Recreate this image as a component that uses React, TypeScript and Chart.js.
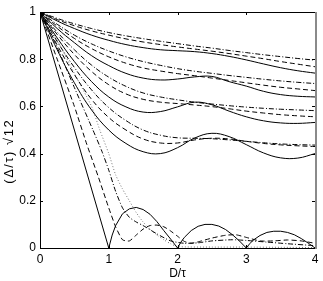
import { useEffect, useRef } from "react";
import { Chart, registerables } from "chart.js";

Chart.register(...registerables);

// ---- data ----
const xGrid = [0, 0.25, 0.5, 0.75, 1, 1.25, 1.5, 1.75, 2, 2.25, 2.5, 2.75, 3, 3.25, 3.5, 3.75, 4];

const g1Solid = [1, 0.962, 0.93, 0.902, 0.88, 0.862, 0.849, 0.84, 0.836, 0.832, 0.824, 0.812, 0.797, 0.78, 0.764, 0.751, 0.741];
const g1Dash = [1, 0.968, 0.942, 0.92, 0.902, 0.886, 0.873, 0.862, 0.852, 0.843, 0.834, 0.824, 0.813, 0.802, 0.79, 0.779, 0.768];
const g1DashDot = [1, 0.973, 0.95, 0.93, 0.913, 0.899, 0.887, 0.876, 0.866, 0.856, 0.847, 0.837, 0.828, 0.819, 0.811, 0.803, 0.796];

const g2Solid = [1, 0.93, 0.87, 0.815, 0.773, 0.74, 0.72, 0.712, 0.716, 0.725, 0.727, 0.705, 0.686, 0.664, 0.65, 0.643, 0.64];
const g2Dash = [1, 0.94, 0.888, 0.845, 0.81, 0.783, 0.763, 0.75, 0.739, 0.73, 0.72, 0.71, 0.7, 0.69, 0.681, 0.674, 0.667];
const g2DashDot = [1, 0.948, 0.902, 0.865, 0.835, 0.81, 0.79, 0.774, 0.76, 0.749, 0.74, 0.731, 0.723, 0.715, 0.708, 0.702, 0.697];

const g3Solid = [1, 0.89, 0.79, 0.705, 0.64, 0.598, 0.576, 0.578, 0.598, 0.618, 0.607, 0.58, 0.556, 0.539, 0.53, 0.528, 0.532];
const g3Dash = [1, 0.905, 0.82, 0.748, 0.692, 0.653, 0.63, 0.618, 0.612, 0.606, 0.599, 0.59, 0.58, 0.572, 0.565, 0.56, 0.556];
const g3DashDot = [1, 0.915, 0.84, 0.775, 0.724, 0.685, 0.657, 0.64, 0.628, 0.618, 0.61, 0.603, 0.597, 0.592, 0.588, 0.585, 0.582];

const g4Solid = [1, 0.84, 0.7, 0.585, 0.5, 0.443, 0.408, 0.4, 0.425, 0.466, 0.486, 0.472, 0.438, 0.403, 0.382, 0.381, 0.4];
const g4Dash = [1, 0.86, 0.735, 0.63, 0.553, 0.5, 0.462, 0.445, 0.445, 0.458, 0.465, 0.462, 0.452, 0.443, 0.437, 0.433, 0.43];
const g4DashDot = [1, 0.875, 0.765, 0.67, 0.595, 0.54, 0.5, 0.478, 0.467, 0.465, 0.463, 0.458, 0.452, 0.446, 0.441, 0.438, 0.436];

const bSolidX = [0, 1, 1.05, 1.1, 1.2, 1.3, 1.4, 1.5, 1.6, 1.7, 1.8, 1.9, 2, 2.05, 2.1, 2.2, 2.3, 2.4, 2.5, 2.6, 2.7, 2.8, 2.9, 3, 3.05, 3.1, 3.2, 3.3, 3.4, 3.5, 3.6, 3.7, 3.8, 3.9, 4];
const bSolidY = [1, 0, 0.055, 0.095, 0.145, 0.166, 0.172, 0.163, 0.143, 0.112, 0.074, 0.038, 0, 0.025, 0.045, 0.074, 0.092, 0.1, 0.1, 0.093, 0.078, 0.056, 0.03, 0, 0.018, 0.033, 0.053, 0.066, 0.071, 0.071, 0.066, 0.056, 0.04, 0.021, 0];

const bDashX = [0, 0.25, 0.5, 0.68, 0.85, 1, 1.1, 1.2, 1.3, 1.4, 1.5, 1.6, 1.7, 1.8, 1.9, 2, 2.1, 2.2, 2.35, 2.5, 2.7, 2.85, 3, 3.2, 3.4, 3.6, 3.8, 4];
const bDashY = [1, 0.8, 0.6, 0.44, 0.3, 0.17, 0.09, 0.035, 0.03, 0.055, 0.08, 0.095, 0.097, 0.09, 0.072, 0.05, 0.028, 0.02, 0.03, 0.042, 0.054, 0.056, 0.045, 0.03, 0.03, 0.034, 0.03, 0.02];

const bDashDotX = [0, 0.25, 0.5, 0.77, 0.9, 1, 1.1, 1.2, 1.3, 1.4, 1.5, 1.7, 1.9, 2.1, 2.3, 2.5, 2.8, 3, 3.3, 3.6, 4];
const bDashDotY = [1, 0.85, 0.68, 0.5, 0.41, 0.33, 0.24, 0.17, 0.13, 0.11, 0.095, 0.06, 0.03, 0.02, 0.022, 0.03, 0.035, 0.032, 0.025, 0.018, 0.01];

const bDotX = [0, 0.25, 0.5, 0.75, 0.87, 1, 1.1, 1.2, 1.3, 1.4, 1.5, 1.6, 1.7, 1.8, 1.9, 2, 2.5, 3, 3.5, 4];
const bDotY = [1, 0.88, 0.74, 0.6, 0.5, 0.4, 0.31, 0.25, 0.2, 0.15, 0.11, 0.08, 0.055, 0.035, 0.018, 0.006, 0.004, 0.004, 0.003, 0.002];

const xTicks = [0, 1, 2, 3, 4];
const yTicks = [0, 0.2, 0.4, 0.6, 0.8, 1];
const xTitle = "D/τ";
const yTitle = "(Δ/τ) √12";

const DASH = [5, 3];
const DASHDOT = [5, 2, 1, 2];
const DOT = [1, 2];

function pts(xs: number[], ys: number[]) {
  return xs.map((x, i) => ({ x, y: ys[i] }));
}

function line(xs: number[], ys: number[], dash: number[], tension: number, color = "#000") {
  return {
    data: pts(xs, ys),
    borderColor: color,
    borderWidth: 1,
    borderDash: dash,
    pointRadius: 0,
    tension,
    fill: false,
  };
}

const frame = {
  id: "frame",
  afterDatasetsDraw(chart: any) {
    const { ctx, chartArea: a, scales } = chart;
    const tl = 3;
    ctx.save();
    ctx.strokeStyle = "#000";
    ctx.lineWidth = 1;
    ctx.setLineDash([]);
    ctx.beginPath();
    xTicks.forEach((v) => {
      const px = Math.round(scales.x.getPixelForValue(v)) + 0.5;
      ctx.moveTo(px, a.bottom);
      ctx.lineTo(px, a.bottom - tl);
      ctx.moveTo(px, a.top);
      ctx.lineTo(px, a.top + tl);
    });
    yTicks.forEach((v) => {
      const py = Math.round(scales.y.getPixelForValue(v)) + 0.5;
      ctx.moveTo(a.left, py);
      ctx.lineTo(a.left + tl, py);
      ctx.moveTo(a.right, py);
      ctx.lineTo(a.right - tl, py);
    });
    ctx.stroke();
    ctx.beginPath();
    ctx.moveTo(a.right, a.top + 0.5);
    ctx.lineTo(a.left + 0.5, a.top + 0.5);
    ctx.lineTo(a.left + 0.5, a.bottom + 0.5);
    ctx.lineTo(a.right, a.bottom + 0.5);
    ctx.stroke();
    ctx.strokeStyle = "#8a8a8a";
    ctx.lineWidth = 2;
    ctx.beginPath();
    ctx.moveTo(a.right + 1, a.top);
    ctx.lineTo(a.right + 1, a.bottom + 1);
    ctx.stroke();

    // y-axis label, placed like the reference (below the axis centre)
    ctx.translate(9, scales.y.getPixelForValue(0.41));
    ctx.rotate(-Math.PI / 2);
    ctx.fillStyle = "#000";
    ctx.font = "13px 'Liberation Sans', Arial, Helvetica, sans-serif";
    try {
      (ctx as any).letterSpacing = "1.5px";
    } catch (e) {
      /* ignore */
    }
    ctx.textAlign = "center";
    ctx.textBaseline = "middle";
    ctx.fillText(yTitle, 0, 0);
    ctx.restore();
  },
};

export default function App() {
  const ref = useRef<HTMLCanvasElement | null>(null);
  useEffect(() => {
    document.body.style.margin = "0";
    const canvas = ref.current;
    if (!canvas) return;
    Chart.defaults.font.family = "'Liberation Sans', Arial, Helvetica, sans-serif";
    Chart.defaults.font.size = 11;
    Chart.defaults.color = "#000";
    const chart = new Chart(canvas, {
      type: "line",
      data: {
        datasets: [
          line(xGrid, g1Solid, [], 0.4),
          line(xGrid, g1Dash, DASH, 0.4),
          line(xGrid, g1DashDot, DASHDOT, 0.4),
          line(xGrid, g2Solid, [], 0.4),
          line(xGrid, g2Dash, DASH, 0.4),
          line(xGrid, g2DashDot, DASHDOT, 0.4),
          line(xGrid, g3Solid, [], 0.4),
          line(xGrid, g3Dash, DASH, 0.4),
          line(xGrid, g3DashDot, DASHDOT, 0.4),
          line(xGrid, g4Solid, [], 0.4),
          line(xGrid, g4Dash, DASH, 0.4),
          line(xGrid, g4DashDot, DASHDOT, 0.4),
          line(bSolidX, bSolidY, [], 0),
          line(bDashX, bDashY, DASH, 0.2),
          line(bDashDotX, bDashDotY, DASHDOT, 0.2),
          line(bDotX, bDotY, DOT, 0.2, "#777"),
        ] as any,
      },
      options: {
        responsive: false,
        animation: false,
        events: [],
        layout: { padding: { top: 12, right: 8, left: 0, bottom: 0 } },
        plugins: { legend: { display: false }, tooltip: { enabled: false } },
        scales: {
          x: {
            type: "linear",
            min: 0,
            max: 4,
            grid: { display: false, drawTicks: false, tickLength: 0 },
            border: { display: false },
            afterBuildTicks: (s: any) => {
              s.ticks = xTicks.map((v) => ({ value: v }));
            },
            afterFit: (s: any) => {
              s.height = 33;
            },
            ticks: { padding: 4, maxRotation: 0, font: { size: 12 }, callback: (v: any) => String(v) },
            title: { display: true, text: xTitle, padding: { top: 0, bottom: 0 }, font: { size: 12 } },
          },
          y: {
            type: "linear",
            min: 0,
            max: 1,
            grid: { display: false, drawTicks: false, tickLength: 0 },
            border: { display: false },
            afterBuildTicks: (s: any) => {
              s.ticks = yTicks.map((v) => ({ value: v }));
            },
            afterFit: (s: any) => {
              s.width = 40;
            },
            ticks: { padding: 4, font: { size: 12 }, callback: (v: any) => String(Math.round(v * 10) / 10) },
            title: { display: false, text: yTitle },
          },
        },
      },
      plugins: [frame],
    });
    return () => chart.destroy();
  }, []);
  return (
    <div style={{ width: 323, height: 281, background: "#fff" }}>
      <canvas ref={ref} width={323} height={281} />
    </div>
  );
}
